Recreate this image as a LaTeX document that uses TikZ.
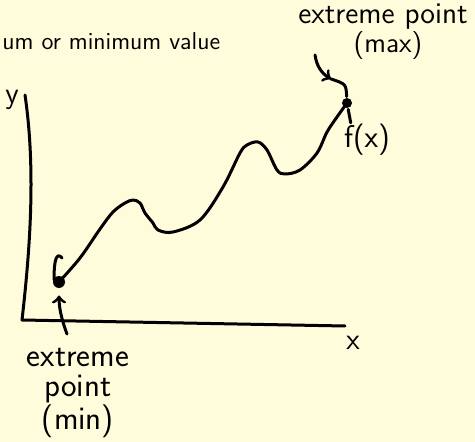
\documentclass[tikz,border=0pt]{standalone}
\usepackage{fontspec}
\definecolor{slidebg}{RGB}{255,252,220}
\tikzset{hand/.style={inner sep=0pt,font=\sffamily\fontsize{15}{15}\selectfont},
  blob/.style={circle,fill,inner sep=0pt}}
\begin{document}
\begin{tikzpicture}[x=.5pt,y=-.5pt,line width=1.5pt,line cap=round,line join=round]
\fill[slidebg] (0,0) rectangle (475,442);
\useasboundingbox (0,0) rectangle (475,442);
\node[anchor=base west,inner sep=0pt,font=\sffamily\fontsize{12.2}{14}\selectfont] (title) at (1,50){um or minimum value};
% axes
\draw (25,95) .. controls (36,170) and (30,250) .. (22,320) -- (345,326);
\node[hand] (ylab) at (12,100){y};
\node[hand] (xlab) at (353,343){x};
% extreme points
\node[blob,minimum size=6pt] (mindot) at (59,282){};
\node[blob,minimum size=5pt] (maxdot) at (347,103){};
\draw plot[smooth,tension=.55] coordinates {(mindot.center) (80,258) (100,229) (113,212) (125,203) (133,200) (140,203) (145,213) (153,223) (158,230) (173,232) (200,220) (223,187) (240,153) (247,145) (258,142) (267,150) (277,170) (285,174) (300,170) (317,153) (327,132) (337,117) (maxdot.center)};
\draw (62,258) .. controls (57,252) and (54,258) .. (54,280);
\node[hand,font=\sffamily\fontsize{15.7}{15}\selectfont] (fx) at (367,140){f(x)};
\draw (maxdot) -- ([xshift=4pt]fx.north west);
% max label
\node[hand] (maxlab) at (383,17){extreme point};
\node[hand,font=\sffamily\fontsize{14}{14}\selectfont] (maxnote) at (388,46){(max)};
\coordinate (maxtail) at (315,55);
\coordinate (maxtip) at (331,79);
\draw[->] (maxtail) to[bend right=25] (maxtip);
\draw (maxtip) .. controls (346,84) .. (maxdot);
% min label
\node[hand,align=center,font=\sffamily\fontsize{16.5}{15}\selectfont] (minlab) at (78,393){extreme\\point\\(min)};
\coordinate (mintail) at (67,334);
\draw[->,shorten >=3pt] (mintail) to[bend left=10] (mindot.south);
\end{tikzpicture}
\end{document}
